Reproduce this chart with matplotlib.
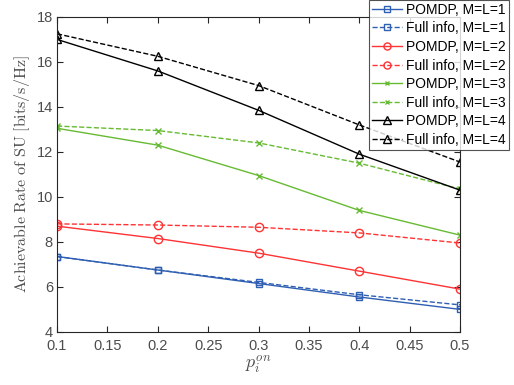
import numpy as np
import matplotlib
matplotlib.use('Agg')
import matplotlib.pyplot as plt

plt.rcParams['font.family'] = ['Liberation Sans', 'DejaVu Sans']
plt.rcParams['mathtext.fontset'] = 'cm'

# Data
p_on = [0.1, 0.2, 0.3, 0.4, 0.5]
pomdp_1 = [7.35, 6.75, 6.15, 5.55, 5.0]
full_1 = [7.35, 6.75, 6.2, 5.65, 5.2]
pomdp_2 = [8.7, 8.15, 7.5, 6.7, 5.9]
full_2 = [8.8, 8.75, 8.65, 8.4, 7.95]
pomdp_3 = [13.05, 12.3, 10.95, 9.4, 8.3]
full_3 = [13.15, 12.95, 12.4, 11.5, 10.35]
pomdp_4 = [17.0, 15.6, 13.85, 11.9, 10.3]
full_4 = [17.25, 16.25, 14.95, 13.2, 11.55]

blue = '#2f5fb3'
red = '#ff3333'
green = '#66bb33'
black = '#000000'

fig = plt.figure(figsize=(5.14, 3.85), dpi=100)
ax = fig.add_axes([0.111, 0.138, 0.784, 0.818])

ax.plot(p_on, pomdp_1, '-s', color=blue, mfc='none', markersize=5, linewidth=1, label='POMDP, M=L=1')
ax.plot(p_on, full_1, '--s', color=blue, mfc='none', markersize=5, linewidth=1, label='Full info, M=L=1')
ax.plot(p_on, pomdp_2, '-o', color=red, mfc='none', markersize=6, linewidth=1, label='POMDP, M=L=2')
ax.plot(p_on, full_2, '--o', color=red, mfc='none', markersize=6, linewidth=1, label='Full info, M=L=2')
ax.plot(p_on, pomdp_3, '-x', color=green, markersize=4, linewidth=1, label='POMDP, M=L=3')
ax.plot(p_on, full_3, '--x', color=green, markersize=4, linewidth=1, label='Full info, M=L=3')
ax.plot(p_on, pomdp_4, '-^', color=black, mfc='none', markersize=6, linewidth=1, label='POMDP, M=L=4')
ax.plot(p_on, full_4, '--^', color=black, mfc='none', markersize=6, linewidth=1, label='Full info, M=L=4')

ax.set_xlim([0.1, 0.5])
ax.set_ylim([4, 18])
ax.set_xticks(np.arange(0.1, 0.51, 0.05))
ax.set_xticklabels(['0.1', '0.15', '0.2', '0.25', '0.3', '0.35', '0.4', '0.45', '0.5'])
ax.set_yticks(range(4, 19, 2))
ax.tick_params(direction='in', top=True, right=True, labelsize=10.5, labelcolor='#4d4d4d',
               color='#262626', length=4)
ax.tick_params(axis='x', pad=5)
ax.tick_params(axis='y', pad=3)
for s in ax.spines.values():
    s.set_color('#262626')
    s.set_linewidth(0.8)

ax.set_xlabel('$p_i^{on}$', fontsize=13, labelpad=0, color='#4d4d4d')
ax.set_ylabel(r'$\mathrm{Achievable\ Rate\ of\ SU\ [bits/s/Hz]}$', fontsize=11.5,
              color='#4d4d4d', labelpad=3)

leg = ax.legend(loc='upper right', bbox_to_anchor=(0.99, 1.0), bbox_transform=fig.transFigure,
                fontsize=10, frameon=True, fancybox=False, edgecolor='#262626',
                borderpad=0.2, labelspacing=0.33, handlelength=2.2, handletextpad=0.3,
                borderaxespad=0, markerscale=0.85)
leg.get_frame().set_linewidth(0.8)

fig.savefig('out.png', dpi=100)
